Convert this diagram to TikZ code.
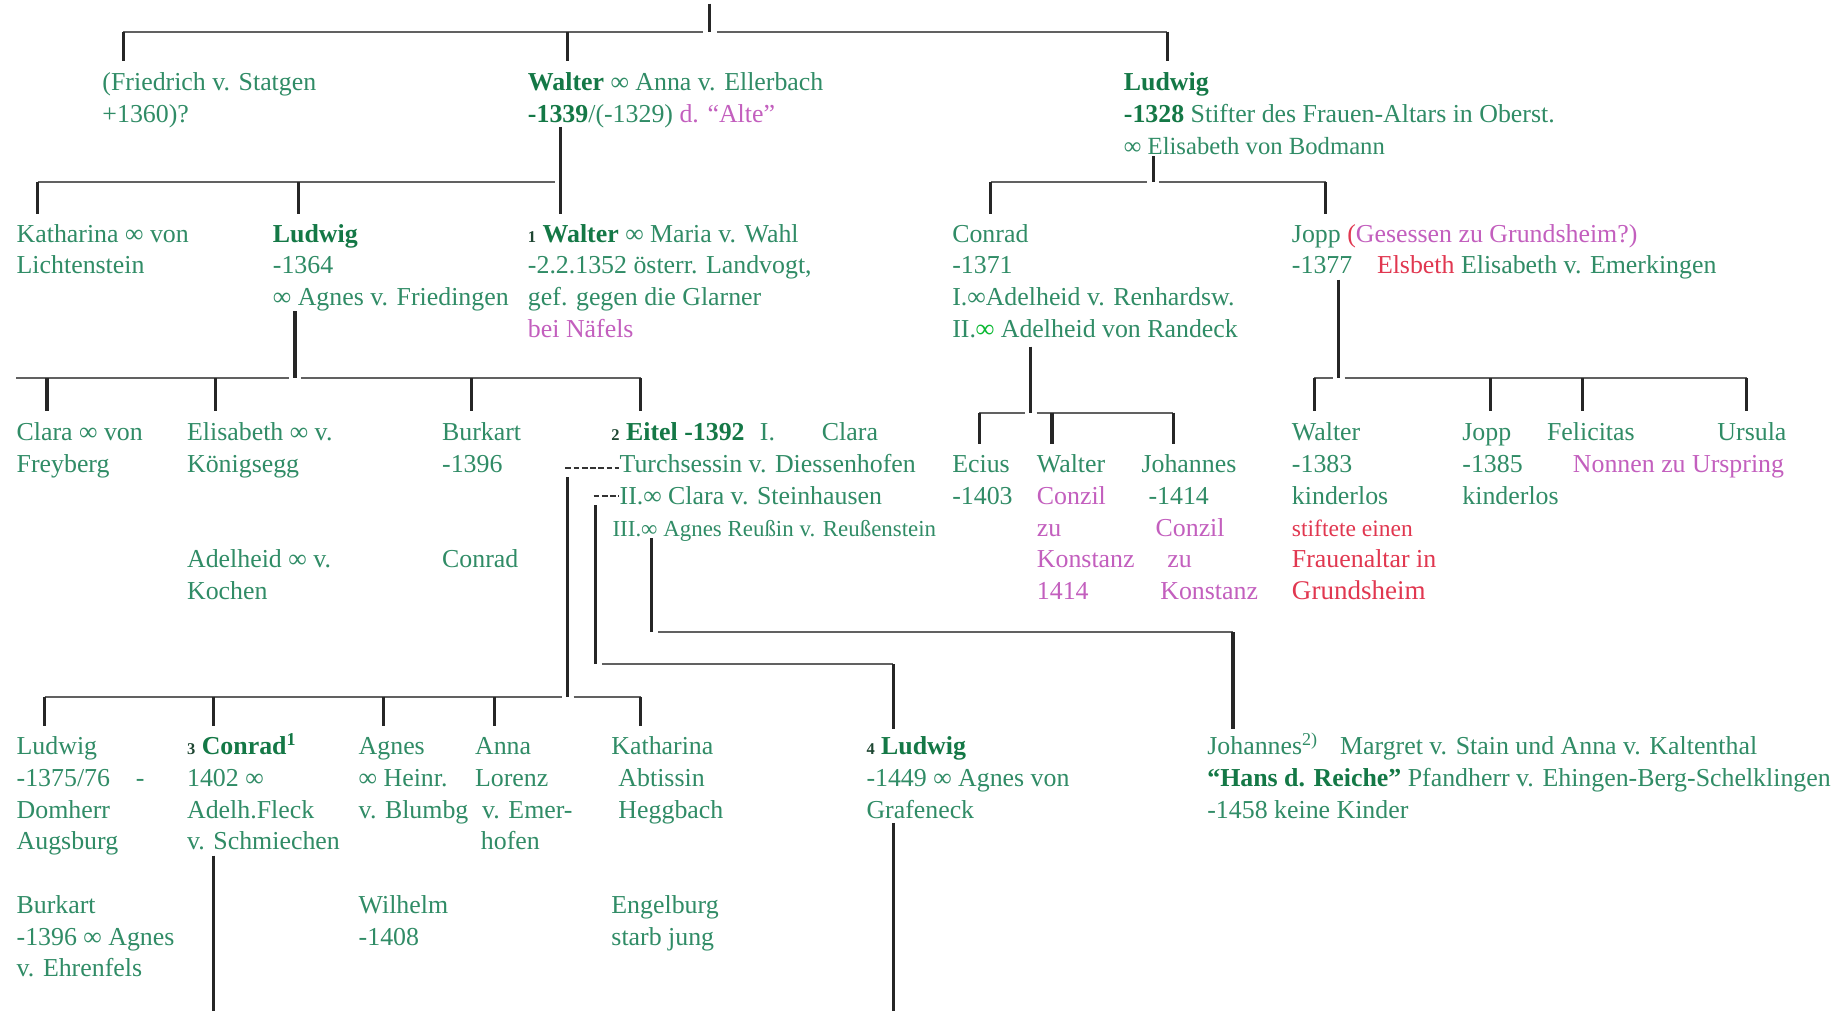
\documentclass[tikz,border=0pt]{standalone}
\usepackage{fontspec}
\setmainfont{Liberation Serif}
\definecolor{grn}{RGB}{48,140,102}
\definecolor{dgrn}{RGB}{20,120,70}
\definecolor{numc}{RGB}{30,70,50}
\definecolor{pnk}{RGB}{195,95,190}
\definecolor{rd}{RGB}{225,55,80}
\definecolor{bgrn}{RGB}{10,185,50}
\newcommand\nm[1]{{\bfseries\color{dgrn}#1}}
\newcommand\gnum[1]{{\fontsize{14}{27}\selectfont\bfseries\color{numc}#1}}
\begin{document}
\begin{tikzpicture}[x=1pt,y=-1pt,
  tx/.style={anchor=north west, inner sep=0pt, align=left, text=grn, font=\fontsize{22}{27}\selectfont, yshift=-2pt},
  vl/.style={line width=2.6pt, black!85},
  hl/.style={line width=1.7pt, black!62},
  dl/.style={line width=1.5pt, black!80, dash pattern=on 5pt off 2pt}]
\fill[white] (0,0) rectangle (1568,860);
\useasboundingbox (0,0) rectangle (1568,860);

% ---------- row 1
\node[tx] (friedrich) at (87,56) {\strut(Friedrich v. Statgen\\\strut+1360)?};
\node[tx] (walter0) at (449,56) {\strut\nm{Walter} ∞ Anna v. Ellerbach\\\strut\nm{-1339}/(-1329) \textcolor{pnk}{d. “Alte”}};
\node[tx] (ludwig0) at (956,56) {\strut\nm{Ludwig}\\\strut\nm{-1328} Stifter des Frauen-Altars in Oberst.\\\strut{\fontsize{21}{27}\selectfont ∞ Elisabeth von Bodmann}};

% ---------- row 2
\node[tx] (katharina) at (14,185) {\strut Katharina ∞ von\\\strut Lichtenstein};
\node[tx] (ludwig1) at (232,185) {\strut\nm{Ludwig}\\\strut -1364\\\strut ∞ Agnes v. Friedingen};
\node[tx] (walter1) at (449,185) {\strut\gnum{1} \nm{Walter} ∞ Maria v. Wahl\\\strut -2.2.1352 österr. Landvogt,\\\strut gef. gegen die Glarner\\\strut\textcolor{pnk}{bei Näfels}};
\node[tx] (conrad0) at (810,185) {\strut Conrad\\\strut -1371\\\strut I.∞Adelheid v. Renhardsw.\\\strut II.\textcolor{bgrn}{\textbf{∞}} Adelheid von Randeck};
\node[tx] (jopp0) at (1099,185) {\strut Jopp \textcolor{rd}{(}\textcolor{pnk}{Gesessen zu Grundsheim?)}\\\strut -1377\hspace{21pt}\textcolor{rd}{Elsbeth} Elisabeth v. Emerkingen};

% ---------- row 3
\node[tx] (clara) at (14,354) {\strut Clara ∞ von\\\strut Freyberg};
\node[tx] (elisabeth) at (159,354) {\strut Elisabeth ∞ v.\\\strut Königsegg};
\node[tx] (burkart) at (376,354) {\strut Burkart\\\strut -1396};
\node[tx] (eitel) at (520,354) {\strut\gnum{2} \nm{Eitel -1392}\hspace{13pt}I.\hspace{40pt}Clara\\\hspace*{7pt}\strut Turchsessin v. Diessenhofen\\\hspace*{7pt}\strut II.∞ Clara v. Steinhausen\\\hspace*{1pt}\strut{\fontsize{19.5}{27}\selectfont III.∞ Agnes Reußin v. Reußenstein}};
\node[tx] (adelheid) at (159,462) {\strut Adelheid ∞ v.\\\strut Kochen};
\node[tx] (conrad1) at (376,462) {\strut Conrad};
\node[tx] (ecius) at (810,381) {\strut Ecius\\\strut -1403};
\node[tx] (walter2) at (882,381) {\strut Walter\\\strut\textcolor{pnk}{Conzil}\\\strut\textcolor{pnk}{zu}\\\strut\textcolor{pnk}{Konstanz}\\\strut\textcolor{pnk}{1414}};
\node[tx] (johannes1) at (971,381) {\strut Johannes\\\strut\hspace*{6pt}-1414\\\strut\hspace*{12pt}\textcolor{pnk}{Conzil}\\\strut\hspace*{22pt}\textcolor{pnk}{zu}\\\strut\hspace*{16pt}\textcolor{pnk}{Konstanz}};
\node[tx] (walter3) at (1099,354) {\strut Walter\\\strut -1383\\\strut kinderlos\\\strut\textcolor{rd}{\fontsize{20}{27}\selectfont stiftete einen}\\\strut\textcolor{rd}{Frauenaltar in}\\\strut\textcolor{rd}{\fontsize{23}{27}\selectfont Grundsheim}};
\node[tx] (jopp1) at (1244,354) {\strut Jopp\\\strut -1385\\\strut kinderlos};
\node[tx] (felicitas) at (1316,354) {\strut Felicitas};
\node[tx] (ursula) at (1461,354) {\strut Ursula};
\node[tx,text=pnk] (nonnen) at (1338,381) {\strut Nonnen zu Urspring};

% ---------- row 4
\node[tx] (ludwig2) at (14,621) {\strut Ludwig\\\strut -1375/76\hspace{22pt}-\\\strut Domherr\\\strut Augsburg};
\node[tx] (conrad2) at (159,621) {\strut\gnum{3} \nm{Conrad}\textsuperscript{\nm{1}}\\\strut 1402 ∞\\\strut Adelh.Fleck\\\strut v. Schmiechen};
\node[tx] (agnes) at (305,621) {\strut Agnes\\\strut ∞ Heinr.\\\strut v. Blumbg};
\node[tx] (anna) at (404,621) {\strut Anna\\\strut Lorenz\\\strut\hspace*{6pt}v. Emer-\\\strut\hspace*{5pt}hofen};
\node[tx] (katharina2) at (520,621) {\strut Katharina\\\strut\hspace*{6pt}Abtissin\\\strut\hspace*{6pt}Heggbach};
\node[tx] (ludwig3) at (737,621) {\strut\gnum{4} \nm{Ludwig}\\\strut -1449 ∞ Agnes von\\\strut Grafeneck};
\node[tx] (johannes2) at (1027,621) {\strut Johannes\textsuperscript{2)}\\\strut\nm{“Hans d. Reiche”} Pfandherr v. Ehingen-Berg-Schelklingen\\\strut -1458 keine Kinder};
\node[tx] (margret) at (1140,621) {\strut Margret v. Stain und Anna v. Kaltenthal};

% ---------- row 5
\node[tx] (burkart2) at (14,756) {\strut Burkart\\\strut -1396 ∞ Agnes\\\strut v. Ehrenfels};
\node[tx] (wilhelm) at (305,756) {\strut Wilhelm\\\strut -1408};
\node[tx] (engelburg) at (520,756) {\strut Engelburg\\\strut starb jung};

% ================= connectors
% root family
\coordinate (r0) at (604,3);
\coordinate (b0) at (604,27);
\coordinate (s-fried) at (105,52);
\coordinate (s-walt0) at (483,52);
\coordinate (s-lud0) at (993,52);
\draw[hl] (s-fried |- b0) -- ([xshift=-6pt]b0);
\draw[hl] ([xshift=6pt]b0) -- (s-lud0 |- b0);
\draw[vl] (r0) -- (b0);
\draw[vl] (s-fried |- b0) -- (s-fried);
\draw[vl] (s-walt0 |- b0) -- (s-walt0);
\draw[vl] (s-lud0 |- b0) -- (s-lud0);

% Walter (-1339) family
\coordinate (w0d) at (477,108);
\coordinate (b1) at (477,155);
\coordinate (s-kath) at (32,182);
\coordinate (s-lud1) at (254,182);
\coordinate (s-walt1) at (477,182);
\draw[hl] (s-kath |- b1) -- ([xshift=-5pt]b1);
\draw[vl] (w0d) -- (s-walt1);
\draw[vl] (s-kath |- b1) -- (s-kath);
\draw[vl] (s-lud1 |- b1) -- (s-lud1);

% Ludwig (-1328) family
\coordinate (l0d) at (981,133);
\coordinate (b2) at (981,155);
\coordinate (s-con0) at (843,182);
\coordinate (s-jopp0) at (1128,182);
\draw[hl] (s-con0 |- b2) -- ([xshift=-5pt]b2);
\draw[hl] ([xshift=5pt]b2) -- (s-jopp0 |- b2);
\draw[vl] (l0d) -- (b2);
\draw[vl] (s-con0 |- b2) -- (s-con0);
\draw[vl] (s-jopp0 |- b2) -- (s-jopp0);

% Ludwig (-1364) family
\coordinate (l1d) at (251,265);
\coordinate (b3) at (251,322);
\coordinate (b3L) at (14,322);
\coordinate (s-clara) at (40,350);
\coordinate (s-elis) at (183,350);
\coordinate (s-burk) at (401,350);
\coordinate (s-eitel) at (545,350);
\draw[hl] (b3L) -- ([xshift=-5pt]b3);
\draw[hl] ([xshift=5pt]b3) -- (s-eitel |- b3);
\draw[vl] (l1d) -- (b3);
\draw[vl] (s-clara |- b3) -- (s-clara);
\draw[vl] (s-elis |- b3) -- (s-elis);
\draw[vl] (s-burk |- b3) -- (s-burk);
\draw[vl] (s-eitel |- b3) -- (s-eitel);

% Conrad (-1371) family
\coordinate (c0d) at (877,295);
\coordinate (b4) at (877,351);
\coordinate (s-ecius) at (833,378);
\coordinate (s-walt2) at (895,378);
\coordinate (s-joh1) at (998,378);
\draw[hl] (s-ecius |- b4) -- ([xshift=-5pt]b4);
\draw[hl] ([xshift=5pt]b4) -- (s-joh1 |- b4);
\draw[vl] (c0d) -- (b4);
\draw[vl] (s-ecius |- b4) -- (s-ecius);
\draw[vl] (s-walt2 |- b4) -- (s-walt2);
\draw[vl] (s-joh1 |- b4) -- (s-joh1);

% Jopp (-1377) family
\coordinate (j0d) at (1139,238);
\coordinate (b5) at (1139,322);
\coordinate (s-walt3) at (1118,350);
\coordinate (s-jopp1) at (1268,350);
\coordinate (s-feli) at (1346,350);
\coordinate (s-urs) at (1486,350);
\draw[hl] (s-walt3 |- b5) -- ([xshift=-5pt]b5);
\draw[hl] ([xshift=5pt]b5) -- (s-urs |- b5);
\draw[vl] (j0d) -- (b5);
\draw[vl] (s-walt3 |- b5) -- (s-walt3);
\draw[vl] (s-jopp1 |- b5) -- (s-jopp1);
\draw[vl] (s-feli |- b5) -- (s-feli);
\draw[vl] (s-urs |- b5) -- (s-urs);

% Eitel I. marriage
\coordinate (e1a) at (481,398);
\coordinate (e1b) at (527,398);
\coordinate (e1d) at (483,406);
\coordinate (b6) at (483,593);
\coordinate (s-lud2) at (38,618);
\coordinate (s-con2) at (182,618);
\coordinate (s-agn) at (326,618);
\coordinate (s-anna) at (421,618);
\coordinate (s-kath2) at (545,618);
\draw[dl] (e1a) -- (e1b);
\draw[hl] (s-lud2 |- b6) -- ([xshift=-5pt]b6);
\draw[hl] ([xshift=5pt]b6) -- (s-kath2 |- b6);
\draw[vl] (e1d) -- (b6);
\draw[vl] (s-lud2 |- b6) -- (s-lud2);
\draw[vl] (s-con2 |- b6) -- (s-con2);
\draw[vl] (s-agn |- b6) -- (s-agn);
\draw[vl] (s-anna |- b6) -- (s-anna);
\draw[vl] (s-kath2 |- b6) -- (s-kath2);

% Eitel II. marriage
\coordinate (e2a) at (505,422);
\coordinate (e2b) at (527,422);
\coordinate (e2d) at (507,430);
\coordinate (e2c) at (507,565);
\coordinate (s-lud3) at (760,620);
\draw[dl] (e2a) -- (e2b);
\draw[vl] (e2d) -- (e2c);
\draw[hl] ([xshift=5pt]e2c) -- (s-lud3 |- e2c);
\draw[vl] (s-lud3 |- e2c) -- (s-lud3);

% Eitel III. marriage
\coordinate (e3d) at (554,458);
\coordinate (e3c) at (554,538);
\coordinate (s-joh2) at (1049,620);
\draw[vl] (e3d) -- (e3c);
\draw[hl] ([xshift=6pt]e3c) -- (s-joh2 |- e3c);
\draw[vl] (s-joh2 |- e3c) -- (s-joh2);

% descent lines running off the page
\coordinate (c2d) at (182,728);
\coordinate (c2e) at (182,860);
\coordinate (l3d) at (760,700);
\coordinate (l3e) at (760,860);
\draw[vl] (c2d) -- (c2e);
\draw[vl] (l3d) -- (l3e);
\end{tikzpicture}
\end{document}
